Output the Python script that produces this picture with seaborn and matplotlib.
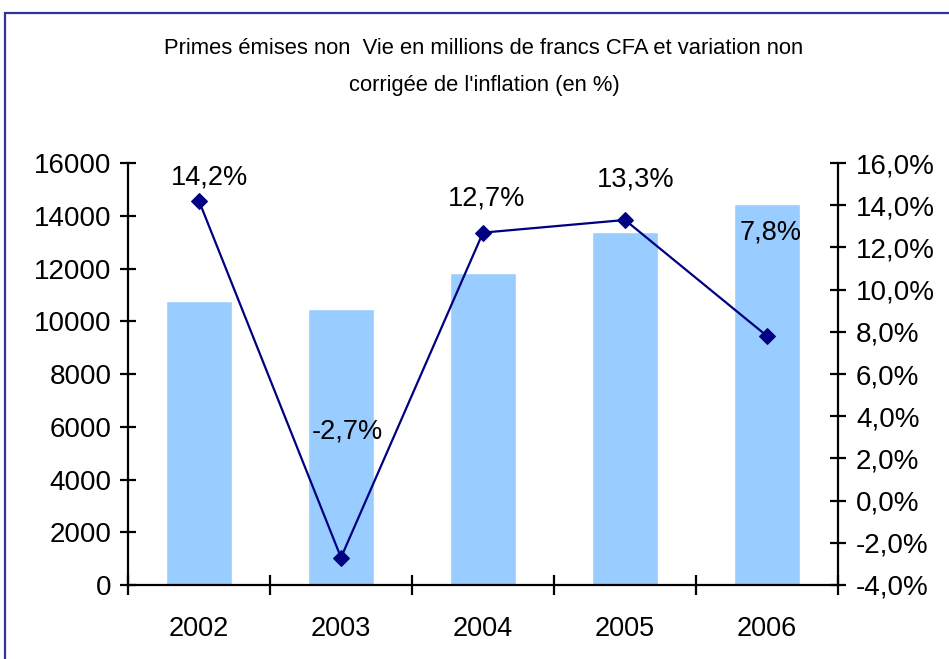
import numpy as np
import pandas as pd
import matplotlib
matplotlib.use("Agg")
import matplotlib.pyplot as plt
import seaborn as sns
from matplotlib.ticker import FixedLocator, FuncFormatter
from matplotlib.patches import Rectangle

sns.set_theme(style="white")
plt.rcParams['font.family'] = ['Liberation Sans', 'DejaVu Sans']
plt.rcParams['text.color'] = 'black'

# Data
years = ["2002", "2003", "2004", "2005", "2006"]
primes = [10770, 10460, 11830, 13380, 14440]          # millions de francs CFA
variation = [14.2, -2.7, 12.7, 13.3, 7.8]              # %

# Label offsets (pixels) for the percentage annotations
label_offsets = [(11, 23), (6, 126), (4, 34), (11, 40), (4, 104)]

df = pd.DataFrame({"annee": years, "primes": primes, "variation": variation})
pos = np.arange(len(years))

fig = plt.figure(figsize=(9.49, 6.59), dpi=100)
ax = fig.add_axes([128 / 949, 1 - 585 / 659, (838 - 128) / 949, (585 - 163) / 659])

sns.barplot(data=df, x="annee", y="primes", color="#99CCFF", saturation=1,
            width=0.46, ax=ax)
ax.set_xlim(-0.5, len(years) - 0.5)
ax.set_ylim(0, 16000)
ax.set_yticks(np.arange(0, 16001, 2000))
ax.set_xlabel("")
ax.set_ylabel("")

ax2 = ax.twinx()
sns.lineplot(x=pos, y=variation, ax=ax2, color="#000080", linewidth=1.6,
             marker="D", markersize=8, markeredgecolor="#000080")
ax2.set_ylim(-4, 16)
ax2.set_yticks(np.arange(-4, 16.1, 2))
ax2.yaxis.set_major_formatter(FuncFormatter(lambda v, p: f"{v:.1f}%".replace(".", ",")))
ax2.set_xlim(-0.5, len(years) - 0.5)

for x, v, (dx, dy) in zip(pos, variation, label_offsets):
    ax2.annotate(f"{v:.1f}%".replace(".", ","), (x, v), xytext=(dx, dy),
                 textcoords="offset pixels", ha="center", va="center",
                 fontsize=19.5, color="black")

for a in (ax, ax2):
    for s in a.spines.values():
        s.set_visible(False)
    a.grid(False)
    a.set_facecolor("none")

ax.spines["left"].set_visible(True)
ax.spines["bottom"].set_visible(True)
ax2.spines["right"].set_visible(True)
for s in (ax.spines["left"], ax.spines["bottom"], ax2.spines["right"]):
    s.set_color("black")
    s.set_linewidth(1.6)

ax.tick_params(axis="y", direction="inout", length=12, width=1.6, color="black",
               labelsize=20, labelcolor="black", pad=6, left=True)
ax2.tick_params(axis="y", direction="inout", length=12, width=1.6, color="black",
                labelsize=20, labelcolor="black", pad=7, right=True)
ax.tick_params(axis="x", which="major", length=0, labelsize=19.5, labelcolor="black", pad=22)
ax.xaxis.set_minor_locator(FixedLocator(np.arange(-0.5, len(years), 1.0)))
ax.tick_params(axis="x", which="minor", direction="inout", length=14, width=1.6,
               color="black", bottom=True)

fig.text(484 / 949, 1 - 67 / 659,
         "Primes émises non  Vie en millions de francs CFA et variation non\ncorrigée de l'inflation (en %)",
         ha="center", va="center", fontsize=15.8, linespacing=2.05, color="black")

fig.patches.append(Rectangle((5 / 949, -0.05), 1.2, 1 - 13 / 659 + 0.05,
                             transform=fig.transFigure, fill=False,
                             edgecolor="#333399", linewidth=1.6))

fig.savefig("out.png", dpi=100)
